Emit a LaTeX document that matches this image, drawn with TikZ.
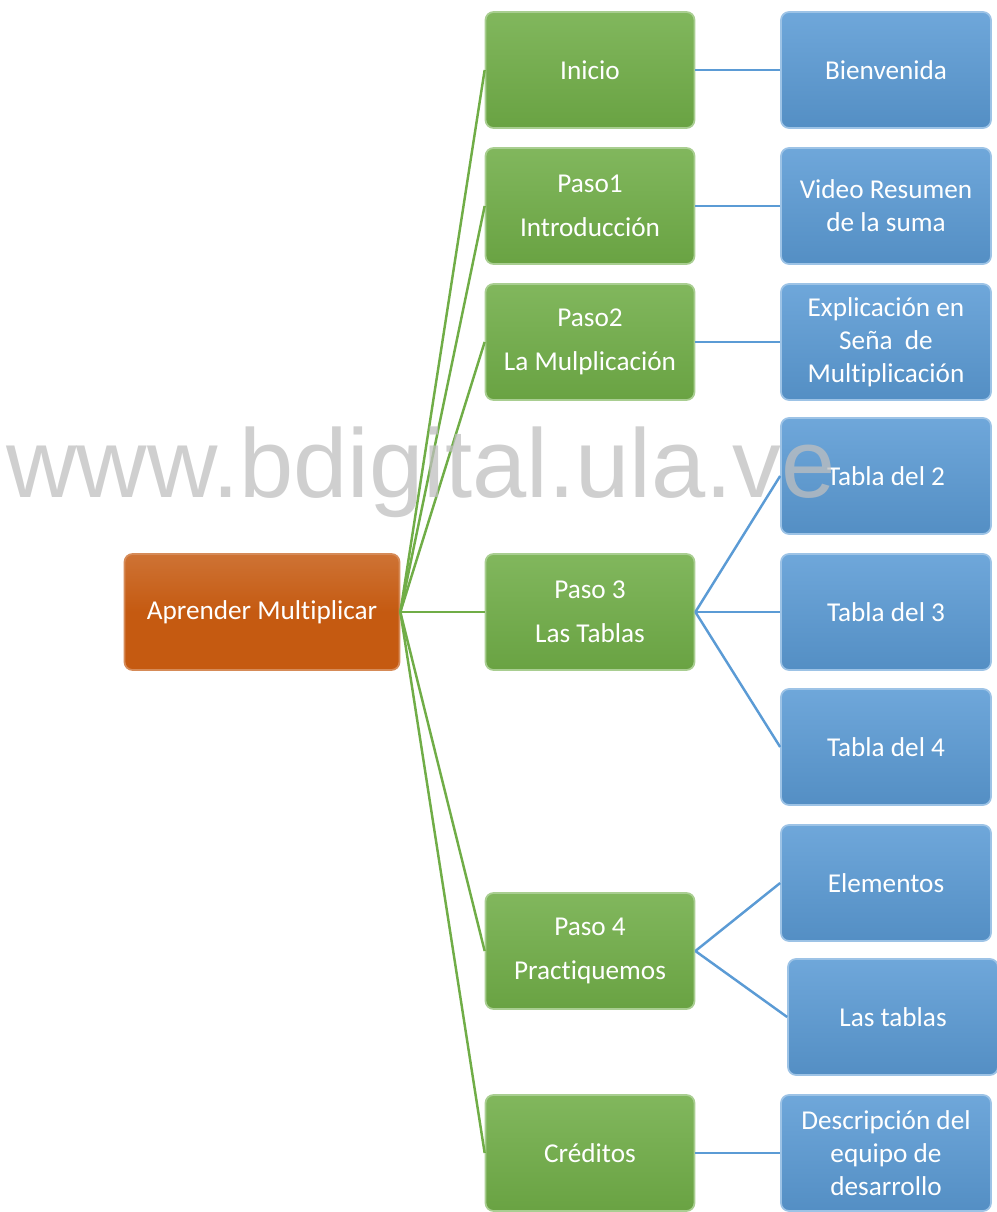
\documentclass[tikz,border=0pt]{standalone}
\usepackage{fontspec}
\setmainfont[Ligatures=NoCommon]{Carlito}
\newfontfamily\markfont{Liberation Sans}
\usetikzlibrary{calc}

\definecolor{rootorange}{HTML}{C55A11}
\definecolor{stepgreen}{HTML}{70AD47}
\definecolor{leafblue}{HTML}{5B9BD5}

\tikzset{
	box/.style={rounded corners=0.16cm, line width=1pt, text=white, align=center, inner sep=2pt},
	rootbox/.style={box, minimum width=5.5cm, minimum height=2.32cm, draw=rootorange!70!white, top color=rootorange!85!white, bottom color=rootorange, middle color=rootorange, font=\fontsize{15.5}{19}\selectfont},
	stepbox/.style={box, minimum width=4.18cm, minimum height=2.32cm, draw=stepgreen!60!white, top color=stepgreen!88!white, bottom color=stepgreen!94!black, font=\fontsize{15.5}{25}\selectfont},
	leafbox/.style={box, minimum width=4.2cm, minimum height=2.32cm, draw=leafblue!60!white, top color=leafblue!88!white, bottom color=leafblue!92!black, font=\fontsize{15.5}{18.8}\selectfont},
	greenline/.style={draw=stepgreen, line width=1.4pt},
	blueline/.style={draw=leafblue, line width=1.4pt}
}

\begin{document}
\begin{tikzpicture}[x=0.02cm, y=-0.02cm]
			%%%%% START %%%%%
			\useasboundingbox (0, 0) rectangle (996, 1212);
			
			\node[rootbox] (root) at (262, 612) {Aprender Multiplicar};
			
			\node[stepbox] (inicio) at (590, 70) {Inicio};
			\node[stepbox] (paso1) at (590, 206) {Paso1\\Introducción};
			\node[stepbox] (paso2) at (590, 342) {Paso2\\La Mulplicación};
			\node[stepbox] (paso3) at (590, 612) {Paso 3\\Las Tablas};
			\node[stepbox] (paso4) at (590, 951) {Paso 4\\Practiquemos};
			\node[stepbox] (creditos) at (590, 1153) {Créditos};
			
			\node[leafbox] (bienvenida) at (886, 70) {Bienvenida};
			\node[leafbox] (video) at (886, 206) {Video Resumen\\de la suma};
			\node[leafbox] (explica) at (886, 342) {Explicación en\\Seña~ de\\Multiplicación};
			\node[leafbox] (tabla2) at (886, 476) {Tabla del 2};
			\node[leafbox] (tabla3) at (886, 612) {Tabla del 3};
			\node[leafbox] (tabla4) at (886, 747) {Tabla del 4};
			\node[leafbox] (elementos) at (886, 883) {Elementos};
			\node[leafbox] (lastablas) at (893, 1017) {Las tablas};
			\node[leafbox] (equipo) at (886, 1153) {Descripción del\\equipo de\\desarrollo};
			
			% root to steps
			\foreach \s in {inicio, paso1, paso2, paso3, paso4, creditos}
				\draw[greenline] (root.east) -- (\s.west);
			
			% steps to leaves
			\draw[blueline] (inicio.east) -- (bienvenida.west);
			\draw[blueline] (paso1.east) -- (video.west);
			\draw[blueline] (paso2.east) -- (explica.west);
			\draw[blueline] (paso3.east) -- (tabla2.west);
			\draw[blueline] (paso3.east) -- (tabla3.west);
			\draw[blueline] (paso3.east) -- (tabla4.west);
			\draw[blueline] (paso4.east) -- (elementos.west);
			\draw[blueline] (paso4.east) -- (lastablas.west);
			\draw[blueline] (creditos.east) -- (equipo.west);
			
			% watermark
			\node[anchor=base west, inner sep=0, text=black!25, opacity=0.75, font=\markfont\fontsize{55.5}{55.5}\selectfont] (mark) at (6, 497) {www.bdigital.ula.ve};
			
			%%%%% END %%%%%
		\end{tikzpicture}
\end{document}
